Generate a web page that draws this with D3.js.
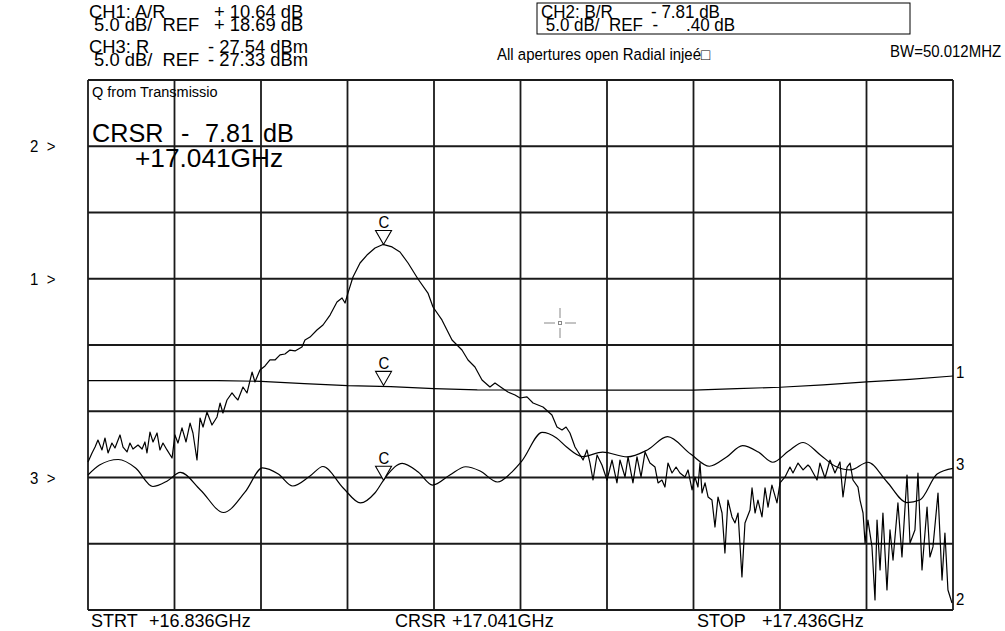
<!DOCTYPE html>
<html>
<head>
<meta charset="utf-8">
<script src="https://cdn.jsdelivr.net/npm/d3@7/dist/d3.min.js"></script>
<style>
  body { margin: 0; background: #fff; }
  text { font-family: "Liberation Sans", Arial, sans-serif; fill: #000; white-space: pre; }
</style>
</head>
<body>
<script>
// sweep settings (GHz)
const startGHz = 16.836;
const stopGHz = 17.436;
const cursorGHz = 17.041;

// channel settings: dB per division, reference value, reference grid line (from top)
const chScale = [5, 5, 5];
const chRef = [18.69, -0.40, -27.33];
const chRefLine = [3, 1, 6];
const markerDb = [10.64, -7.81, -27.54];

// CH1 A/R  (dB)
const ch1Freq = [16.836, 16.866, 16.896, 16.926, 16.956, 16.986, 17.016, 17.046, 17.076, 17.106, 17.136,
  17.166, 17.196, 17.226, 17.256, 17.286, 17.316, 17.346, 17.376, 17.406, 17.436];
const ch1Db = [11.00, 11.00, 11.00, 11.00, 10.95, 10.78, 10.62, 10.55, 10.40, 10.30, 10.29,
  10.29, 10.29, 10.29, 10.29, 10.40, 10.50, 10.68, 10.90, 11.10, 11.35];

// CH2 B/R transmission (dB)
const ch2Freq = [16.8360, 16.8388, 16.8409, 16.8429, 16.8457, 16.8478, 16.8499, 16.8526, 16.8547, 16.8582,
  16.8603, 16.8631, 16.8651, 16.8672, 16.8707, 16.8735, 16.8755, 16.8769, 16.8790, 16.8811,
  16.8839, 16.8859, 16.8880, 16.8908, 16.8943, 16.8963, 16.8984, 16.9012, 16.9040, 16.9068,
  16.9088, 16.9116, 16.9137, 16.9158, 16.9185, 16.9220, 16.9255, 16.9276, 16.9296, 16.9324,
  16.9359, 16.9380, 16.9400, 16.9435, 16.9463, 16.9498, 16.9518, 16.9553, 16.9588, 16.9622,
  16.9657, 16.9692, 16.9726, 16.9761, 16.9796, 16.9844, 16.9865, 16.9900, 16.9948, 16.9990,
  17.0039, 17.0087, 17.0122, 17.0143, 17.0163, 17.0198, 17.0247, 17.0295, 17.0351, 17.0406,
  17.0469, 17.0524, 17.0580, 17.0649, 17.0718, 17.0753, 17.0815, 17.0885, 17.0954, 17.0996,
  17.1044, 17.1093, 17.1148, 17.1183, 17.1232, 17.1273, 17.1322, 17.1357, 17.1405, 17.1447,
  17.1516, 17.1578, 17.1613, 17.1648, 17.1676, 17.1703, 17.1738, 17.1773, 17.1794, 17.1821,
  17.1842, 17.1863, 17.1891, 17.1925, 17.1960, 17.1995, 17.2029, 17.2050, 17.2085, 17.2106,
  17.2140, 17.2168, 17.2196, 17.2224, 17.2258, 17.2293, 17.2314, 17.2341, 17.2362, 17.2383,
  17.2411, 17.2439, 17.2466, 17.2501, 17.2522, 17.2550, 17.2570, 17.2591, 17.2605, 17.2619,
  17.2640, 17.2661, 17.2688, 17.2709, 17.2730, 17.2758, 17.2778, 17.2799, 17.2827, 17.2848,
  17.2869, 17.2896, 17.2917, 17.2952, 17.2966, 17.2987, 17.3007, 17.3035, 17.3056, 17.3077,
  17.3104, 17.3139, 17.3160, 17.3195, 17.3229, 17.3250, 17.3285, 17.3320, 17.3354, 17.3368,
  17.3417, 17.3437, 17.3472, 17.3507, 17.3541, 17.3576, 17.3597, 17.3625, 17.3646, 17.3666,
  17.3701, 17.3715, 17.3736, 17.3750, 17.3770, 17.3798, 17.3819, 17.3833, 17.3854, 17.3874,
  17.3902, 17.3923, 17.3944, 17.3978, 17.4006, 17.4041, 17.4062, 17.4096, 17.4117, 17.4145,
  17.4180, 17.4200, 17.4221, 17.4256, 17.4284, 17.4304, 17.4325, 17.4353];
const ch2Db = [-24.23, -23.55, -23.10, -22.57, -23.32, -22.42, -23.55, -22.80, -23.17, -22.19,
  -23.10, -23.47, -22.80, -23.25, -22.95, -23.25, -22.72, -23.55, -21.97, -22.72,
  -22.04, -23.32, -22.80, -23.32, -23.93, -22.19, -22.80, -21.66, -22.72, -21.29,
  -22.04, -24.08, -20.91, -21.59, -20.46, -21.44, -20.83, -19.78, -20.53, -19.55,
  -19.02, -19.32, -19.55, -18.57, -19.02, -17.44, -18.19, -17.29, -16.98, -16.53,
  -16.53, -16.15, -16.08, -15.78, -15.85, -15.55, -15.02, -14.80, -14.27, -13.89,
  -13.14, -12.15, -11.85, -12.23, -11.48, -10.27, -9.21, -8.61, -8.08, -7.81,
  -8.00, -8.38, -9.21, -10.42, -11.48, -12.53, -13.51, -15.02, -15.78, -16.53,
  -17.06, -18.04, -18.57, -18.27, -18.64, -18.95, -19.17, -19.40, -19.32, -19.78,
  -20.08, -20.68, -21.59, -21.81, -21.59, -22.04, -23.10, -23.70, -24.08, -23.32,
  -24.31, -25.59, -23.70, -24.46, -25.59, -24.08, -25.81, -24.08, -25.36, -23.85,
  -25.81, -23.85, -25.36, -23.47, -24.31, -24.61, -25.81, -25.59, -26.12, -24.31,
  -25.06, -24.61, -25.06, -25.36, -24.83, -26.34, -25.36, -26.12, -24.31, -26.57,
  -25.81, -26.87, -27.10, -29.14, -26.87, -28.08, -31.10, -27.10, -28.38, -28.83,
  -28.08, -32.91, -28.83, -27.85, -26.19, -28.08, -27.10, -28.38, -26.19, -27.63,
  -25.97, -27.32, -25.81, -25.36, -24.61, -25.06, -24.31, -24.83, -24.46, -24.61,
  -25.59, -24.31, -25.44, -24.08, -25.06, -24.23, -26.87, -24.61, -24.31, -25.59,
  -26.12, -27.10, -28.08, -30.34, -28.61, -30.64, -34.64, -28.61, -32.38, -28.08,
  -33.89, -29.36, -31.63, -27.32, -31.40, -25.21, -30.34, -29.36, -25.06, -32.38,
  -27.63, -31.40, -30.64, -26.57, -33.14, -29.59, -33.89, -34.87];

// CH3 R (dBm)
const ch3Freq = [16.836, 16.844, 16.857, 16.869, 16.881, 16.891, 16.900, 16.914, 16.930, 16.945,
  16.957, 16.968, 16.978, 16.990, 16.999, 17.013, 17.025, 17.035, 17.043, 17.054,
  17.065, 17.075, 17.087, 17.098, 17.108, 17.120, 17.130, 17.137, 17.151, 17.161,
  17.168, 17.179, 17.193, 17.210, 17.224, 17.238, 17.254, 17.267, 17.279, 17.290,
  17.301, 17.311, 17.322, 17.332, 17.344, 17.354, 17.365, 17.377, 17.390, 17.404,
  17.413, 17.425, 17.436];
const ch3Db = [-27.14, -26.39, -25.97, -26.61, -28.01, -27.59, -26.95, -28.27, -29.97, -28.42,
  -26.61, -27.07, -27.97, -27.22, -26.50, -28.12, -29.25, -28.50, -27.22, -26.26,
  -26.92, -27.90, -27.14, -26.52, -26.84, -27.67, -26.92, -26.08, -23.93, -24.35,
  -25.03, -25.75, -25.41, -25.78, -25.25, -24.25, -25.56, -26.48, -25.78, -24.92,
  -25.41, -26.18, -25.33, -24.69, -25.63, -26.46, -26.76, -26.18, -27.63, -29.22,
  -29.03, -27.07, -26.64];

const headerRows = [
  ["CH1: A/R", "+ 10.64 dB"],
  [" 5.0 dB/  REF", "+ 18.69 dB"],
  ["CH3: R", "- 27.54 dBm"],
  [" 5.0 dB/  REF", "- 27.33 dBm"]
];
const ch2Rows = [["CH2: B/R", "- 7.81 dB"], [" 5.0 dB/  REF  -", ".40 dB"]];
const footer = [["STRT", "+16.836GHz"], ["CRSR", "+17.041GHz"], ["STOP", "+17.436GHz"]];

const W = 1005, H = 631;
const gL = 88, gR = 953, gT = 80, gB = 610;
const nx = 10, ny = 8;

const svg = d3.select("body").append("svg")
  .attr("width", W).attr("height", H);

const x = d3.scaleLinear().domain([startGHz, stopGHz]).range([gL, gR]);
const divY = d3.scaleLinear().domain([0, ny]).range([gT, gB]);

// one y scale per channel, top of grid = ref + refLine * scale
const yScales = chRef.map((r, i) => d3.scaleLinear()
  .domain([r + chRefLine[i] * chScale[i], r - (ny - chRefLine[i]) * chScale[i]])
  .range([gT, gB]));

// grid
const grid = svg.append("g").attr("stroke", "#1a1a1a").attr("stroke-width", 1.8).attr("fill", "none");
const xStep = (stopGHz - startGHz) / nx;
grid.selectAll("line.v").data(d3.range(nx + 1)).join("line")
  .attr("x1", d => x(startGHz + d * xStep)).attr("x2", d => x(startGHz + d * xStep))
  .attr("y1", gT).attr("y2", gB);
grid.selectAll("line.h").data(d3.range(ny + 1)).join("line")
  .attr("x1", gL).attr("x2", gR)
  .attr("y1", d => divY(d)).attr("y2", d => divY(d));

function txt(px, py, s, size, sx, sy) {
  return svg.append("text")
    .attr("transform", `translate(${px},${py}) scale(${sx || 1},${sy || 1})`)
    .style("font-size", size + "px")
    .text(s);
}

// header (plotter font: narrow and tall)
const hdrY = [18, 31, 53, 66];
headerRows.forEach((r, i) => {
  txt(89, hdrY[i], r[0], 17, 1.08, 1.1);
  txt(i < 2 ? 214 : 208, hdrY[i], r[1], 17, 1.08, 1.1);
});

svg.append("rect").attr("x", 537).attr("y", 3).attr("width", 373).attr("height", 31)
  .attr("fill", "none").attr("stroke", "#000").attr("stroke-width", 1);
txt(541, 18, ch2Rows[0][0], 17, 1.0, 1.1);
txt(651, 18, ch2Rows[0][1], 17, 1.0, 1.1);
txt(541, 31, ch2Rows[1][0], 17, 1.0, 1.1);
txt(686, 31, ch2Rows[1][1], 17, 1.0, 1.1);

txt(497, 60, "All apertures open Radial injeé\u25a1", 15, 1, 1.05);
txt(890, 57, "BW=50.012MHZ", 15, 1, 1.05);

txt(92, 97, "Q from Transmissio", 14.5, 1, 1.05);
txt(92, 142, "CRSR", 24, 1.05, 1.05);
txt(181, 142, "-", 24, 1.05, 1.05);
txt(205, 142, "7.81", 24, 1.05, 1.05);
txt(263, 142, "dB", 24, 1.05, 1.05);
txt(135, 167, "+17.041GHz", 25, 1.05, 1.05);

// reference position arrows on the left
["1", "2", "3"].forEach((c, i) => {
  txt(30, divY(chRefLine[i]) + 6, c + "  >", 15, 1, 1.05);
});

// footer
const footX = [[91, 149], [395, 452], [697, 762]];
footer.forEach((f, i) => {
  txt(footX[i][0], 627, f[0], 17.5, 1.03, 1.05);
  txt(footX[i][1], 627, f[1], 17.5, 1.03, 1.05);
});

// traces
const traces = [
  { f: ch1Freq, v: ch1Db, curve: d3.curveLinear },
  { f: ch2Freq, v: ch2Db, curve: d3.curveLinear },
  { f: ch3Freq, v: ch3Db, curve: d3.curveMonotoneX }
];
traces.forEach((t, i) => {
  const line = d3.line()
    .x((d, j) => x(t.f[j]))
    .y(d => yScales[i](d))
    .curve(t.curve);
  svg.append("path")
    .attr("d", line(t.v))
    .attr("fill", "none")
    .attr("stroke", "#000")
    .attr("stroke-width", 1.2)
    .attr("stroke-linejoin", "round");
  // channel number at the trace end
  const endY = yScales[i](t.v[t.v.length - 1]);
  txt(gR + 3, endY + 2, String(i + 1), 15, 1, 1.05);
});

// cursor markers
markerDb.forEach((v, i) => {
  const mx = x(cursorGHz), my = yScales[i](v);
  svg.append("path")
    .attr("d", `M${mx},${my} L${mx - 8},${my - 14} L${mx + 8},${my - 14} Z`)
    .attr("fill", "#fff").attr("stroke", "#000").attr("stroke-width", 1.1);
  txt(mx - 5, my - 16, "C", 15, 1, 1.1);
});

// crosshair
const cx = 560, cy = 323;
const ch = svg.append("g").attr("stroke", "#888").attr("stroke-width", 1);
ch.append("line").attr("x1", cx - 16).attr("x2", cx - 5).attr("y1", cy).attr("y2", cy);
ch.append("line").attr("x1", cx + 5).attr("x2", cx + 16).attr("y1", cy).attr("y2", cy);
ch.append("line").attr("x1", cx).attr("x2", cx).attr("y1", cy - 15).attr("y2", cy - 5);
ch.append("line").attr("x1", cx).attr("x2", cx).attr("y1", cy + 5).attr("y2", cy + 15);
ch.append("rect").attr("x", cx - 1.5).attr("y", cy - 1.5).attr("width", 3).attr("height", 3).attr("fill", "none");
</script>
</body>
</html>
